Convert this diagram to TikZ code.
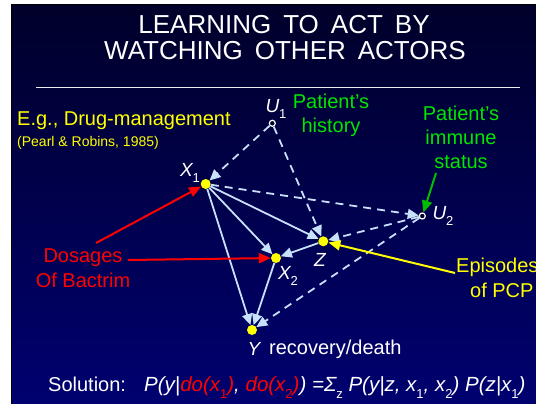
\documentclass[tikz,border=0pt]{standalone}
\usepackage{fontspec}
\setmainfont{Liberation Sans}
\usetikzlibrary{arrows.meta}

\definecolor{bgtop}{RGB}{0,0,42}
\definecolor{bgbot}{RGB}{0,0,112}
\definecolor{edgeblue}{RGB}{200,225,250}
\definecolor{labgreen}{RGB}{0,230,0}
\definecolor{arrgreen}{RGB}{0,190,0}
\definecolor{txtyellow}{RGB}{255,255,0}
\definecolor{redtxt}{RGB}{255,0,0}

\newcommand\lsub[1]{\raisebox{-0.35em}{\fontsize{13}{13}\selectfont\upshape #1}}
\newcommand\tsp{\hspace{12pt}}

\begin{document}
\begin{tikzpicture}[x=1pt,y=-1pt,
  dot/.style={circle,fill=txtyellow,inner sep=0pt,minimum size=10pt},
  latent/.style={circle,draw=white,line width=1.2pt,fill=bgtop,inner sep=0pt,minimum size=6pt},
  solidarr/.style={draw=edgeblue,line width=1.8pt,-{Triangle[length=11pt,width=10pt]}},
  dasharr/.style={solidarr,dash pattern=on 8pt off 6pt},
  redarr/.style={draw=red,line width=2pt,-{Triangle[length=12pt,width=10pt]}},
  yelarr/.style={draw=txtyellow,line width=2pt,-{Triangle[length=12pt,width=10pt]}},
  grnarr/.style={draw=arrgreen,line width=2pt,-{Triangle[length=12pt,width=10pt]}},
  titletxt/.style={text=white,font=\fontsize{26}{26}\selectfont,inner sep=0pt},
  vlabel/.style={text=white,font=\fontsize{19}{19}\selectfont\itshape,inner sep=0pt},
  greentxt/.style={text=labgreen,font=\fontsize{20}{24}\selectfont,align=center,inner sep=0pt},
  yellowtxt/.style={text=txtyellow,font=\fontsize{20}{25}\selectfont,align=center,inner sep=0pt},
  redlab/.style={text=redtxt,font=\fontsize{20}{25}\selectfont,align=center,inner sep=0pt},
  whitetxt/.style={text=white,font=\fontsize{20}{20}\selectfont,inner sep=0pt}]
\useasboundingbox (0,0) rectangle (536,404);
\fill[white] (0,0) rectangle (536,404);
\fill[black] (10.5,4) rectangle (536,404);
\shade[top color=bgtop,bottom color=bgbot] (12.5,6) rectangle (536,404);

% title
\node[titletxt] (t1) at (284,25) {LEARNING\tsp TO\tsp ACT\tsp BY};
\node[titletxt] (t2) at (285,51) {WATCHING\tsp OTHER\tsp ACTORS};
\coordinate (r1) at (36,88);
\coordinate (r2) at (520,88);
\draw[white!85!gray,line width=1pt] (r1) -- (r2);

% texts
\node[text=txtyellow,font=\fontsize{20}{20}\selectfont,inner sep=0pt,anchor=west] (eg) at (17,121) {E.g., Drug-management};
\node[text=txtyellow,font=\fontsize{14}{14}\selectfont,inner sep=0pt,anchor=west] (pr) at (17,143) {(Pearl \& Robins, 1985)};
\node[greentxt] (hist) at (331,115) {Patient’s\\history};
\node[greentxt] (imm) at (461,137.5) {Patient’s\\immune\\status};
\node[redlab] (dos) at (83,268) {Dosages\\Of Bactrim};
\node[yellowtxt,anchor=west] (epi) at (456,278) {Episodes\\\hspace{9pt}of PCP};

% variables
\node[dot] (X1) at (205.7,184) {};
\node[dot] (X2) at (276,258) {};
\node[dot] (Z) at (323.3,241.3) {};
\node[dot] (Y) at (252,330) {};
\node[latent] (U1) at (272.3,123.3) {};
\node[latent] (U2) at (422.3,216) {};

\node[vlabel] (lX1) at (190,173) {X\lsub{1}};
\node[vlabel] (lX2) at (288,276) {X\lsub{2}};
\node[vlabel] (lZ) at (320,260) {Z};
\node[vlabel] (lY) at (254,349) {Y};
\node[whitetxt,anchor=west] (rd) at (269,349) {recovery/death};
\node[vlabel] (lU1) at (276,109) {U\lsub{1}};
\node[vlabel] (lU2) at (443,216) {U\lsub{2}};

% edges
\draw[dasharr] (U1) -- (X1);
\draw[dasharr] (U1) -- (Z);
\draw[dasharr] (X1) -- (U2);
\draw[dasharr] (U2) -- (Z);
\draw[dasharr] (U2) -- (Y);
\draw[solidarr] (X1) -- (X2);
\draw[solidarr] (X1) -- (Z);
\draw[solidarr] (X1) -- (Y);
\draw[solidarr] (Z) -- (X2);
\draw[solidarr] (X2) -- (Y);

% annotation arrows
\coordinate (ra) at (96,243);
\coordinate (rb) at (128,260);
\coordinate (ya) at (455,273);
\coordinate (ga) at (436,173);
\draw[redarr] (ra) -- (X1);
\draw[redarr] (rb) -- (X2);
\draw[yelarr] (ya) -- (Z);
\draw[grnarr] (ga) -- (U2);

% solution
\node[whitetxt,anchor=base west] (sol) at (48,391) {Solution:};
\node[whitetxt,anchor=base west,font=\fontsize{20.5}{20.5}\selectfont\itshape] (form) at (144,391)
 {P(y|\textcolor{redtxt}{do(x\lsub{1})}, \textcolor{redtxt}{do(x\lsub{2})}) =Σ\lsub{z} P(y|z, x\lsub{1}, x\lsub{2}) P(z|x\lsub{1})};
\end{tikzpicture}
\end{document}
